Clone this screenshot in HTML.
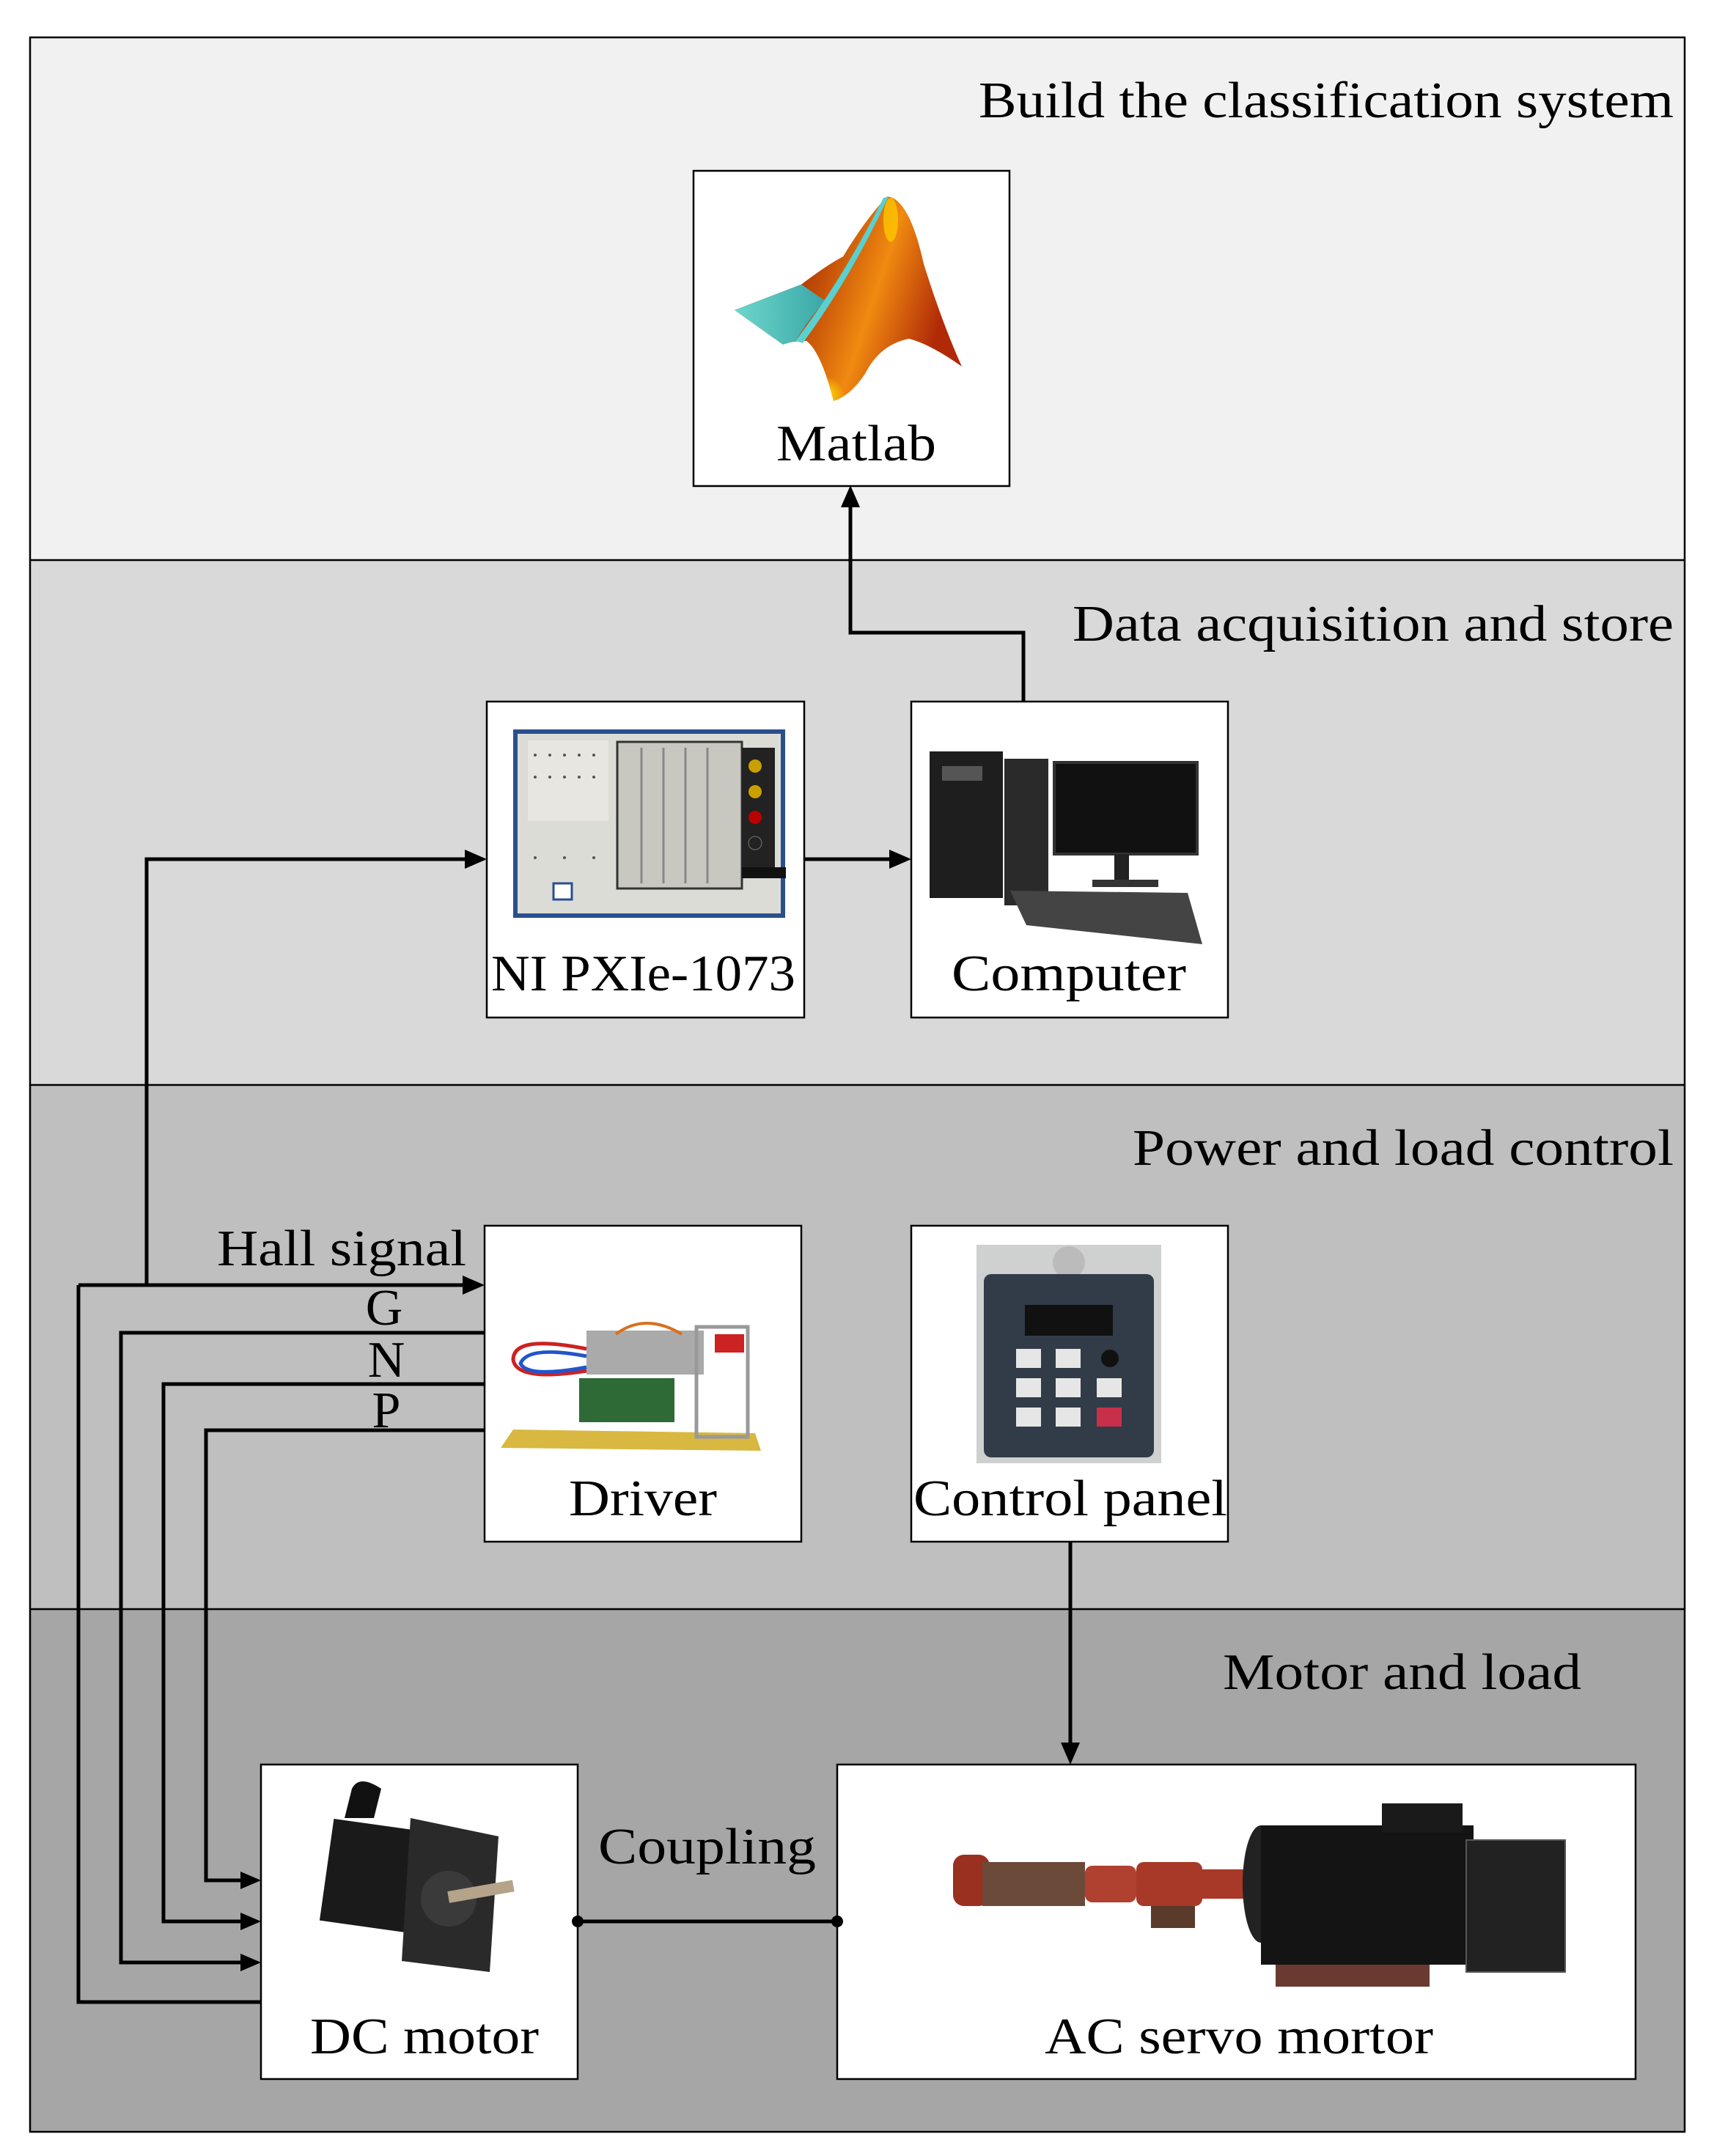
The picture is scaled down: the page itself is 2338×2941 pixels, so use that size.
<!DOCTYPE html>
<html><head><meta charset="utf-8"><style>
html,body{margin:0;padding:0;background:#fff;}
svg{display:block;}
text{font-family:"Liberation Serif",serif;fill:#000;}
</style></head><body>
<svg width="2338" height="2941" viewBox="0 0 2338 2941" xmlns="http://www.w3.org/2000/svg">
<defs>
<linearGradient id="mo" x1="0" y1="0" x2="1" y2="0.3">
<stop offset="0" stop-color="#5a1008"/><stop offset="0.45" stop-color="#c04a08"/><stop offset="0.7" stop-color="#f08a10"/><stop offset="1" stop-color="#b02a08"/>
</linearGradient>
<radialGradient id="my" cx="0.35" cy="0.9" r="0.3"><stop offset="0" stop-color="#ffe000"/><stop offset="1" stop-color="#ffe000" stop-opacity="0"/></radialGradient>
<linearGradient id="cy" x1="0" y1="0" x2="1" y2="0"><stop offset="0" stop-color="#6ed6cc"/><stop offset="1" stop-color="#3aa8a8"/></linearGradient>
</defs>
<rect x="41" y="51" width="2257" height="713" fill="#f1f1f1"/>
<rect x="41" y="764" width="2257" height="716" fill="#d9d9d9"/>
<rect x="41" y="1480" width="2257" height="715" fill="#bfbfbf"/>
<rect x="41" y="2195" width="2257" height="713" fill="#a6a6a6"/>
<g stroke="#000" stroke-width="2.5" fill="none">
<rect x="41" y="51" width="2257" height="2857"/>
<line x1="41" y1="764" x2="2298" y2="764"/>
<line x1="41" y1="1480" x2="2298" y2="1480"/>
<line x1="41" y1="2195" x2="2298" y2="2195"/>
</g>
<g font-size="70">
<text x="1335" y="160" textLength="948" lengthAdjust="spacingAndGlyphs">Build the classification system</text>
<text x="1463" y="874" textLength="820" lengthAdjust="spacingAndGlyphs">Data acquisition and store</text>
<text x="1545" y="1589" textLength="738" lengthAdjust="spacingAndGlyphs">Power and load control</text>
<text x="1668" y="2304" textLength="489" lengthAdjust="spacingAndGlyphs">Motor and load</text>
</g>
<g fill="#fff" stroke="#000" stroke-width="2.5">
<rect x="946" y="233" width="431" height="430"/>
<rect x="664" y="957" width="433" height="431"/>
<rect x="1243" y="957" width="432" height="431"/>
<rect x="661" y="1672" width="432" height="431"/>
<rect x="1243" y="1672" width="432" height="431"/>
<rect x="356" y="2407" width="432" height="429"/>
<rect x="1142" y="2407" width="1089" height="429"/>
</g>
<path d="M1002,423 L1093,388 Q1130,360 1150,350 Q1180,300 1210,268 Q1240,270 1260,360 Q1285,440 1312,500 Q1270,470 1240,462 Q1200,470 1180,510 Q1160,540 1137,547 Q1120,480 1100,465 Q1080,465 1068,470 Z" fill="url(#mo)"/>
<path d="M1137,547 Q1120,480 1100,465 Q1150,480 1180,510 Q1160,540 1137,547Z" fill="url(#my)"/>
<ellipse cx="1215" cy="300" rx="10" ry="30" fill="#ffd000" opacity="0.7"/>
<path d="M1002,423 L1093,388 L1125,410 Q1100,440 1085,465 L1068,470 Z" fill="url(#cy)"/>
<path d="M1085,465 Q1150,380 1205,270 L1212,268 Q1160,380 1095,468Z" fill="#5ad0d0"/>
<rect x="703" y="998" width="365" height="251" fill="#dcdcd6" stroke="#2a4f8f" stroke-width="6"/>
<rect x="720" y="1010" width="110" height="110" fill="#e8e6e0"/>
<g fill="#555"><circle cx="730" cy="1030" r="2"/><circle cx="750" cy="1030" r="2"/><circle cx="770" cy="1030" r="2"/><circle cx="790" cy="1030" r="2"/><circle cx="810" cy="1030" r="2"/><circle cx="730" cy="1060" r="2"/><circle cx="750" cy="1060" r="2"/><circle cx="770" cy="1060" r="2"/><circle cx="790" cy="1060" r="2"/><circle cx="810" cy="1060" r="2"/><circle cx="730" cy="1170" r="2"/><circle cx="770" cy="1170" r="2"/><circle cx="810" cy="1170" r="2"/></g>
<rect x="755" y="1205" width="25" height="22" fill="#fff" stroke="#2a4f8f" stroke-width="3"/>
<rect x="842" y="1012" width="170" height="200" fill="#c8c8c0" stroke="#333" stroke-width="3"/>
<g stroke="#888" stroke-width="3"><line x1="875" y1="1020" x2="875" y2="1205"/><line x1="905" y1="1020" x2="905" y2="1205"/><line x1="935" y1="1020" x2="935" y2="1205"/><line x1="965" y1="1020" x2="965" y2="1205"/></g>
<rect x="1012" y="1020" width="45" height="170" fill="#222"/>
<circle cx="1030" cy="1045" r="9" fill="#c9a000"/><circle cx="1030" cy="1080" r="9" fill="#c9a000"/><circle cx="1030" cy="1115" r="9" fill="#b00"/><circle cx="1030" cy="1150" r="9" fill="#222" stroke="#777"/>
<rect x="1012" y="1183" width="60" height="15" fill="#111"/>
<rect x="1268" y="1025" width="100" height="200" fill="#1e1e1e"/>
<rect x="1285" y="1045" width="55" height="20" fill="#555"/>
<rect x="1370" y="1035" width="60" height="200" fill="#2a2a2a"/>
<rect x="1438" y="1040" width="195" height="125" fill="#111" stroke="#333" stroke-width="4"/>
<rect x="1520" y="1165" width="20" height="40" fill="#222"/>
<rect x="1490" y="1200" width="90" height="10" fill="#333"/>
<path d="M1378,1215 L1620,1218 L1640,1288 L1400,1262Z" fill="#444"/>
<path d="M700,1950 L1030,1955 L1038,1979 L683,1975Z" fill="#d8b840"/>
<rect x="790" y="1880" width="130" height="60" fill="#2d6a35"/>
<rect x="800" y="1815" width="160" height="60" fill="#aaa"/>
<rect x="950" y="1810" width="70" height="150" fill="none" stroke="#999" stroke-width="5"/>
<rect x="975" y="1820" width="40" height="25" fill="#c22"/>
<path d="M800,1840 Q700,1820 700,1855 Q705,1885 800,1870" fill="none" stroke="#c22" stroke-width="5"/>
<path d="M800,1850 Q720,1835 710,1860 Q720,1880 800,1865" fill="none" stroke="#2255cc" stroke-width="5"/>
<path d="M840,1820 Q880,1790 930,1820" fill="none" stroke="#d87020" stroke-width="4"/>
<rect x="1332" y="1698" width="252" height="298" fill="#cfd0d0"/>
<circle cx="1458" cy="1722" r="22" fill="#bbb"/>
<rect x="1342" y="1738" width="232" height="250" rx="10" fill="#323b48"/>
<rect x="1398" y="1780" width="120" height="42" fill="#111"/>
<g fill="#e6e6e6"><rect x="1386" y="1840" width="34" height="26"/><rect x="1440" y="1840" width="34" height="26"/><rect x="1496" y="1880" width="34" height="26"/><rect x="1386" y="1880" width="34" height="26"/><rect x="1440" y="1880" width="34" height="26"/><rect x="1386" y="1920" width="34" height="26"/><rect x="1440" y="1920" width="34" height="26"/></g>
<rect x="1496" y="1920" width="34" height="26" fill="#c8304a"/>
<circle cx="1514" cy="1853" r="12" fill="#111"/>
<rect x="445" y="2490" width="140" height="140" fill="#1a1a1a" transform="rotate(8 515 2560)"/>
<path d="M560,2480 L680,2505 L668,2690 L548,2675Z" fill="#2a2a2a"/>
<circle cx="612" cy="2590" r="38" fill="#3a3a3a"/>
<rect x="612" y="2580" width="90" height="16" fill="#b5a48a" transform="rotate(-10 612 2590)"/>
<path d="M480,2440 Q490,2420 520,2440 L510,2480 L470,2480Z" fill="#111"/>
<rect x="1300" y="2530" width="50" height="70" rx="15" fill="#9a3020"/>
<rect x="1340" y="2540" width="140" height="60" fill="#6b4a3a"/>
<rect x="1480" y="2545" width="70" height="50" rx="10" fill="#b04030"/>
<rect x="1550" y="2540" width="90" height="60" rx="10" fill="#a83828"/>
<rect x="1570" y="2600" width="60" height="30" fill="#5a3a2a"/>
<rect x="1640" y="2550" width="60" height="40" fill="#a83828"/>
<ellipse cx="1720" cy="2570" rx="25" ry="80" fill="#222"/>
<rect x="1720" y="2490" width="290" height="190" fill="#141414"/>
<rect x="1885" y="2460" width="110" height="40" fill="#1a1a1a"/>
<rect x="2000" y="2510" width="135" height="180" fill="#222" stroke="#555" stroke-width="2"/>
<rect x="1740" y="2680" width="210" height="30" fill="#6a3a30"/>
<g stroke="#000" stroke-width="5" fill="none" stroke-linejoin="miter">
<polyline points="1396,957 1396,863 1160,863 1160,690"/>
<line x1="1097" y1="1172" x2="1218" y2="1172"/>
<polyline points="200,1753 200,1172 640,1172"/>
<line x1="107" y1="1753" x2="636" y2="1753"/>
<polyline points="661,1818 165,1818 165,2677 332,2677"/>
<polyline points="661,1888 223,1888 223,2621 332,2621"/>
<polyline points="661,1951 281,1951 281,2565 332,2565"/>
<polyline points="107,1753 107,2731 356,2731"/>
<line x1="1460" y1="2103" x2="1460" y2="2382"/>
<line x1="788" y1="2621" x2="1142" y2="2621"/>
</g>
<g fill="#000">
<path d="M1160,662 L1147,692 L1173,692Z"/>
<path d="M1243,1172 L1213,1159 L1213,1185Z"/>
<path d="M664,1172 L634,1159 L634,1185Z"/>
<path d="M661,1753 L631,1740 L631,1766Z"/>
<path d="M356,2677 L328,2665 L328,2689Z"/>
<path d="M356,2621 L328,2609 L328,2633Z"/>
<path d="M356,2565 L328,2553 L328,2577Z"/>
<path d="M1460,2407 L1447,2377 L1473,2377Z"/>
<circle cx="788" cy="2621" r="8"/><circle cx="1142" cy="2621" r="8"/>
</g>
<g font-size="70">
<text x="1059" y="628" textLength="218" lengthAdjust="spacingAndGlyphs">Matlab</text>
<text x="670" y="1351" textLength="415" lengthAdjust="spacingAndGlyphs">NI PXIe-1073</text>
<text x="1298" y="1351" textLength="320" lengthAdjust="spacingAndGlyphs">Computer</text>
<text x="776" y="2067" textLength="202" lengthAdjust="spacingAndGlyphs">Driver</text>
<text x="1246" y="2067" textLength="428" lengthAdjust="spacingAndGlyphs">Control panel</text>
<text x="816" y="2542" textLength="297" lengthAdjust="spacingAndGlyphs">Coupling</text>
<text x="423" y="2801" textLength="312" lengthAdjust="spacingAndGlyphs">DC motor</text>
<text x="1425" y="2801" textLength="530" lengthAdjust="spacingAndGlyphs">AC servo mortor</text>
<text x="296" y="1726" textLength="340" lengthAdjust="spacingAndGlyphs">Hall signal</text>
<text x="524" y="1807" text-anchor="middle">G</text>
<text x="527" y="1878" text-anchor="middle">N</text>
<text x="527" y="1947" text-anchor="middle">P</text>
</g>
</svg>
</body></html>
